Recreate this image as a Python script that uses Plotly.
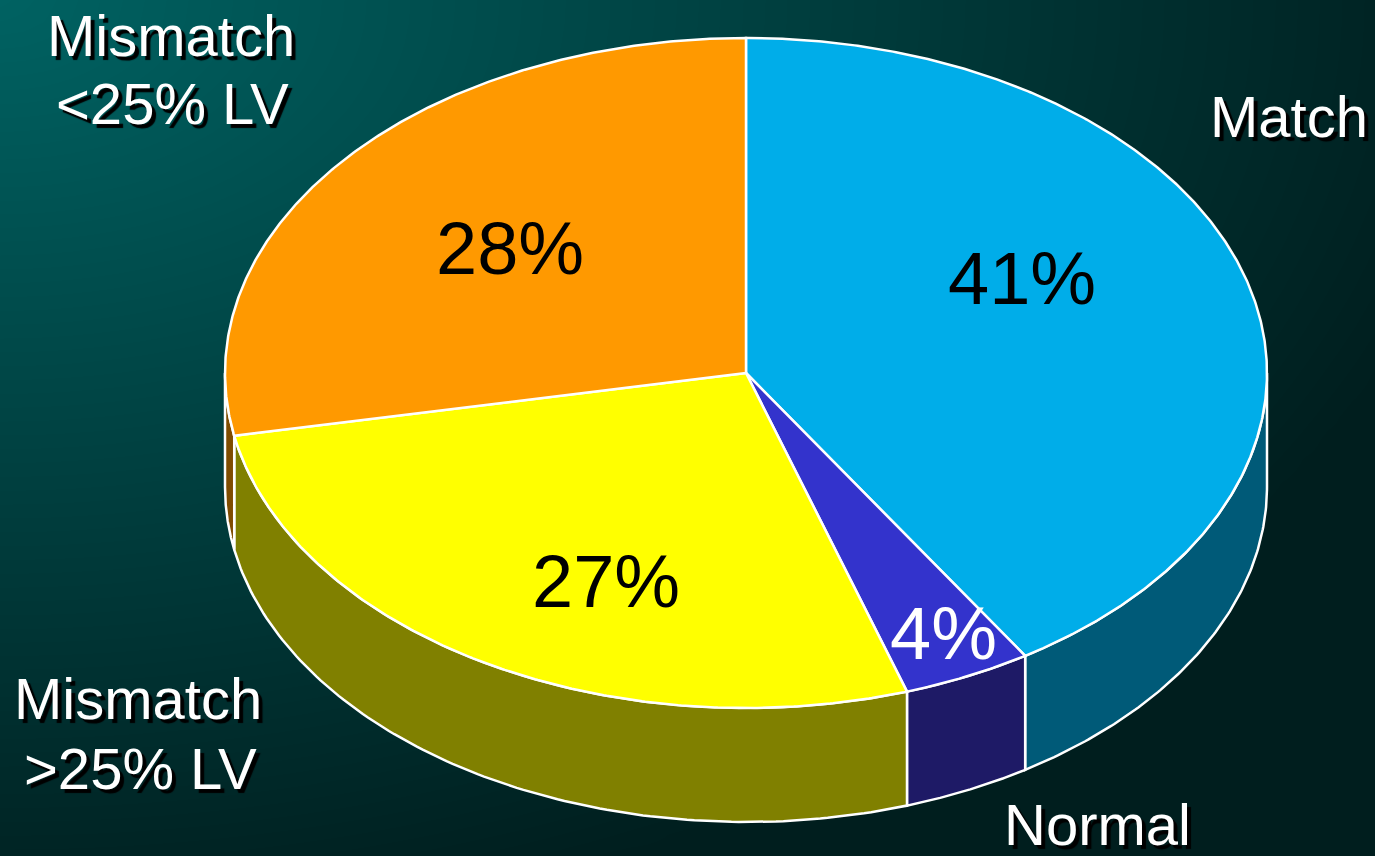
import numpy as np
import plotly.graph_objects as go

# Slice data (clockwise from 12 o'clock)
labels = ["Match", "Normal", "Mismatch >25% LV", "Mismatch <25% LV"]
values = [41, 4, 27, 28]
top_colors = ["#00ADE9", "#3333CC", "#FFFF00", "#FF9900"]
side_colors = ["#005A78", "#1E1A66", "#808000", "#7F4C00"]
pct_colors = ["black", "white", "black", "black"]

# Canvas and pie geometry (pixel units)
W, H = 1375, 856
CX, CY = 746, 373      # centre of top face
RX, RY = 521, 335      # ellipse radii of the tilted disc
DEPTH = 114            # thickness of the disc

# Percent label anchor points, one per slice
pct_pos = [(1022, 278), (943, 633), (606, 581), (510, 248)]


def ell(theta_deg, dy=0.0):
    t = np.radians(theta_deg)
    return CX + RX * np.sin(t), CY - RY * np.cos(t) + dy


fig = go.Figure()

# Teal-to-dark background gradient from the top-left corner
gx = np.linspace(0, W, 60)
gy = np.linspace(0, H, 40)
GX, GY = np.meshgrid(gx, gy)
dist = np.sqrt((GX / W) ** 2 + (GY / H) ** 2)
shade = np.maximum(30, 98 - 62 * dist)
fig.add_trace(go.Heatmap(
    x=gx, y=gy, z=shade, zmin=30, zmax=98, zsmooth="best",
    colorscale=[[0, "rgb(0,30,30)"], [1, "rgb(0,98,98)"]],
    showscale=False, hoverinfo="skip"))

total = float(sum(values))
bounds = np.concatenate([[0], np.cumsum(values)]) / total * 360.0

# Side walls (front half of the disc only)
for i in range(len(values)):
    a0, a1 = bounds[i], bounds[i + 1]
    s0, s1 = max(a0, 90.0), min(a1, 270.0)
    if s1 <= s0:
        continue
    th = np.linspace(s0, s1, 120)
    tx, ty = ell(th)
    bx, by = ell(th[::-1], DEPTH)
    xs = np.concatenate([tx, bx, tx[:1]])
    ys = np.concatenate([ty, by, ty[:1]])
    fig.add_trace(go.Scatter(
        x=xs, y=ys, mode="lines", fill="toself",
        fillcolor=side_colors[i], line=dict(color="white", width=2.5),
        hoverinfo="skip", showlegend=False))

# Top faces
for i in range(len(values)):
    a0, a1 = bounds[i], bounds[i + 1]
    th = np.linspace(a0, a1, max(20, int((a1 - a0) * 3)))
    ax, ay = ell(th)
    xs = np.concatenate([[CX], ax, [CX]])
    ys = np.concatenate([[CY], ay, [CY]])
    fig.add_trace(go.Scatter(
        x=xs, y=ys, mode="lines", fill="toself",
        fillcolor=top_colors[i], line=dict(color="white", width=2.5),
        hoverinfo="skip", showlegend=False, name=labels[i]))

FONT = "Liberation Sans, Arial, sans-serif"
annotations = []

# Percent labels on the slices
for i, v in enumerate(values):
    px, py = pct_pos[i]
    annotations.append(dict(
        x=px, y=py, xref="x", yref="y", text=f"{v}%", showarrow=False,
        font=dict(family=FONT, size=74, color=pct_colors[i])))

# Category labels around the pie
shadow = "4px 4px 1px #000000"
cat_lines = [
    ("Match", 1289, 116),
    ("Normal", 1097, 824),
    ("Mismatch", 138, 698),
    ("&gt;25% LV", 140, 768),
    ("Mismatch", 171, 35),
    ("&lt;25% LV", 172, 103),
]
for txt, x, y in cat_lines:
    annotations.append(dict(
        x=x, y=y, xref="x", yref="y", text=txt, showarrow=False,
        font=dict(family=FONT, size=58, color="white", shadow=shadow)))

fig.update_layout(
    width=W, height=H,
    margin=dict(l=0, r=0, t=0, b=0),
    paper_bgcolor="#001e1e", plot_bgcolor="#001e1e",
    xaxis=dict(range=[0, W], visible=False, fixedrange=True),
    yaxis=dict(range=[H, 0], visible=False, fixedrange=True),
    annotations=annotations,
    showlegend=False,
)

fig.write_html("out.html", config={"displayModeBar": False})
